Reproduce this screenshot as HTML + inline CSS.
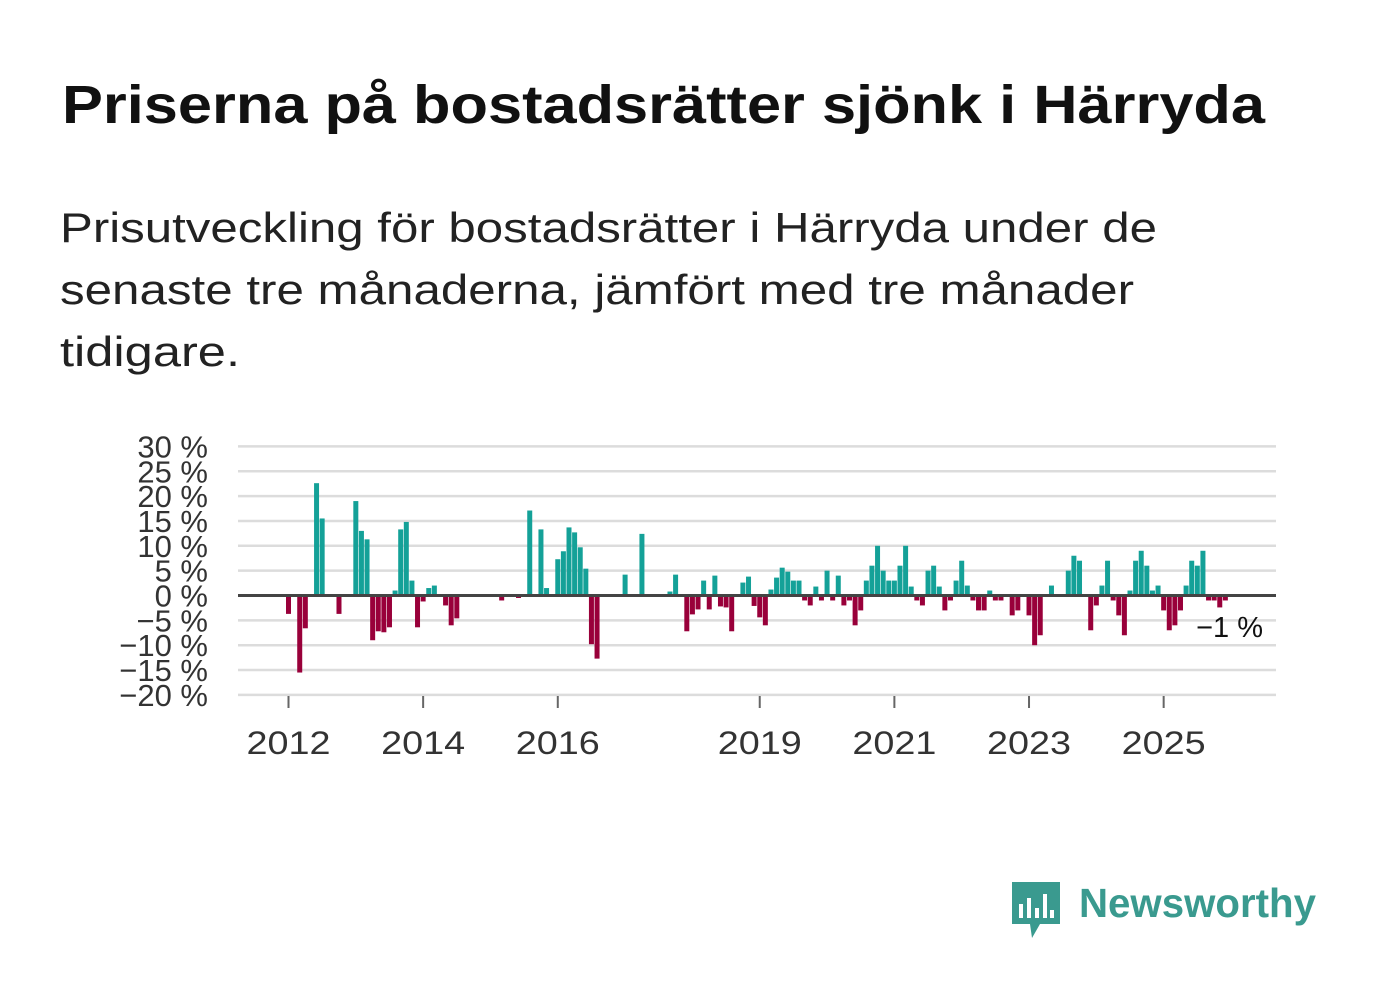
<!DOCTYPE html>
<html><head><meta charset="utf-8"><style>
body{margin:0;background:#fff;width:1382px;height:999px;overflow:hidden;font-family:"Liberation Sans",sans-serif;}
</style></head><body>
<svg width="1382" height="999">
<text x="62" y="123" font-size="54" font-weight="bold" fill="#111" textLength="1203" lengthAdjust="spacingAndGlyphs">Priserna på bostadsrätter sjönk i Härryda</text>
<g font-size="42" fill="#222">
<text x="60" y="242" textLength="1097" lengthAdjust="spacingAndGlyphs">Prisutveckling för bostadsrätter i Härryda under de</text>
<text x="60" y="304" textLength="1074" lengthAdjust="spacingAndGlyphs">senaste tre månaderna, jämfört med tre månader</text>
<text x="60" y="366" textLength="180" lengthAdjust="spacingAndGlyphs">tidigare.</text>
</g>
<g id="grid"></g><g id="bars"></g><g id="axes"></g>
<text x="1263" y="637" font-size="29" fill="#111" text-anchor="end">−1 %</text>
<g>
<path d="M1012 882 h48 v42 h-20 l-8 14 l-2 -14 h-18 z" fill="#3a9a8f"/>
<rect x="1019" y="904" width="4" height="14" fill="#fff"/><rect x="1027" y="898" width="4" height="20" fill="#fff"/><rect x="1035" y="908" width="4" height="10" fill="#fff"/><rect x="1043" y="894" width="4" height="24" fill="#fff"/><rect x="1050" y="910" width="4" height="8" fill="#fff"/>
<text x="1079" y="917" font-size="41" font-weight="bold" fill="#3a9a8f" textLength="237" lengthAdjust="spacingAndGlyphs">Newsworthy</text>
</g>
</svg>
<script>
const values=[-3.7,null,-15.5,-6.6,null,22.6,15.5,null,null,-3.7,null,null,
19,13,11.3,-9,-7.2,-7.4,-6.4,1,13.3,14.8,3,-6.4,
-1.2,1.5,2,null,-2,-6,-4.6,null,null,null,null,null,
null,null,-1,null,null,-0.5,null,17.1,null,13.3,1.5,null,
7.3,8.9,13.7,12.7,9.7,5.4,-9.8,-12.7,null,null,null,null,
4.2,null,null,12.4,null,null,null,null,0.8,4.2,null,-7.2,
-3.8,-2.8,3,-2.8,4,-2.2,-2.4,-7.2,null,2.6,3.8,-2.1,
-4.4,-6,1.2,3.6,5.6,4.8,3,3,-1,-2,1.8,-1,
5,-1,4,-2,-1,-6,-3,3,6,10,5,3,
3,6,10,1.8,-1,-2,5,6,1.8,-3,-1,3,
7,2,-1,-3,-3,1,-1,-1,null,-4,-3,null,
-4,-10,-8,null,2,null,null,5,8,7,null,-7,
-2,2,7,-1,-4,-8,1,7,9,6,1,2,
-3,-7,-6,-3,2,7,6,9,-1,-1,-2.4,-1];
const yTicks=[30,25,20,15,10,5,0,-5,-10,-15,-20];
const xTickYears=["2012","2014","2016","2019","2021","2023","2025"];
const xTickIdx=[0,24,48,84,108,132,156];
const NS="http://www.w3.org/2000/svg";
const x0=238,x1=1276;
function xs(i){return 288.5+i*5.61;}
function ys(v){return 595.5-v*4.97;}
function mk(t,a,p){const e=document.createElementNS(NS,t);for(const k in a)e.setAttribute(k,a[k]);p.appendChild(e);return e;}
const grid=document.getElementById('grid'),bars=document.getElementById('bars'),axes=document.getElementById('axes');
yTicks.forEach(v=>{
 if(v!==0){const l=mk('line',{x1:x0,x2:x1,y1:ys(v),y2:ys(v),stroke:'#dcdcdc','stroke-width':2.5},grid);
 
 }
 const t=mk('text',{x:208,y:ys(v)+11,'font-size':31,fill:'#333','text-anchor':'end'},axes);
 t.textContent=(v<0?'−'+(-v):v)+' %';
 
 
});
values.forEach((v,i)=>{
 if(v===null)return;
 const y=v>=0?ys(v):ys(0),h=Math.abs(ys(v)-ys(0));
 const r=mk('rect',{x:xs(i)-2.5,y:y,width:5,height:h,fill:v>=0?'#14a198':'#99003a'},bars);
 
 
});
const z=mk('line',{x1:x0,x2:x1,y1:ys(0),y2:ys(0),stroke:'#444','stroke-width':3},axes);


xTickIdx.forEach((idx,k)=>{
 const tk=mk('line',{x1:xs(idx),x2:xs(idx),y1:696,y2:708,stroke:'#666','stroke-width':2},axes);
 
 
 const t=mk('text',{x:xs(idx),y:754,'font-size':32,fill:'#333','text-anchor':'middle',textLength:84,lengthAdjust:'spacingAndGlyphs'},axes);
 t.textContent=xTickYears[k];
 
 
});
</script>
</body></html>
